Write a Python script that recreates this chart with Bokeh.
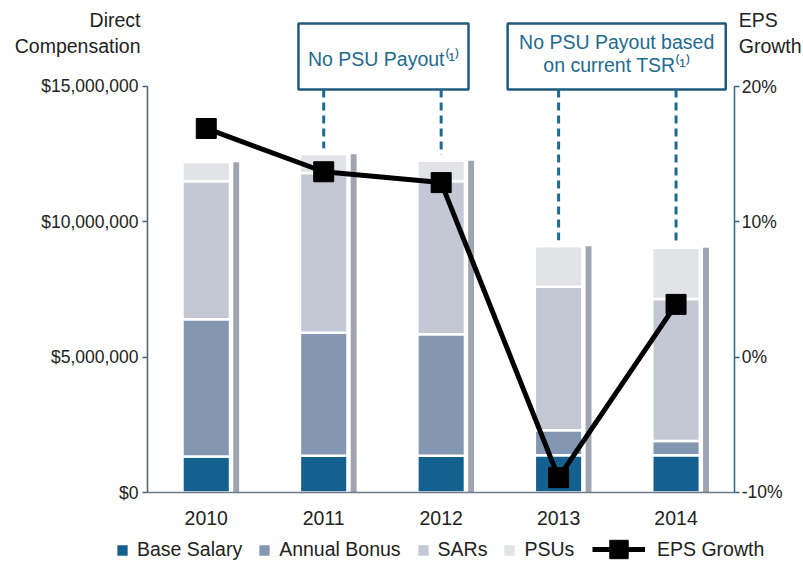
from bokeh.plotting import figure
from bokeh.models import (Range1d, LinearAxis, FixedTicker, NumeralTickFormatter,
                          PrintfTickFormatter, CustomJSTickFormatter, Legend, LegendItem,
                          Label, ColumnDataSource)
from bokeh.embed import file_html
from bokeh.resources import INLINE

# ---------------- data ----------------
years = ["2010", "2011", "2012", "2013", "2014"]
base_salary = [1.33e6, 1.36e6, 1.36e6, 1.38e6, 1.38e6]
annual_bonus = [5.07e6, 4.54e6, 4.49e6, 0.92e6, 0.52e6]
sars = [5.10e6, 5.90e6, 5.65e6, 5.30e6, 5.25e6]
psus = [0.70e6, 0.70e6, 0.76e6, 1.50e6, 1.89e6]
eps_growth = [16.9, 13.7, 12.9, -8.9, 3.9]
left_ticks = [0, 5_000_000, 10_000_000, 15_000_000]
right_ticks = [-10, 0, 10, 20]
segment_names = ["Base Salary", "Annual Bonus", "SARs", "PSUs"]
note_years = ["2011", "2012", "2013", "2014"]
box1_text = "No PSU Payout⁽¹⁾"
box2_lines = ["No PSU Payout based", "on current TSR⁽¹⁾"]

# ---------------- styling ----------------
FONT = "Liberation Sans"
colors = ["#14618f", "#8396b2", "#c3c8d4", "#e2e3e7"]
shadow_color = "#9ea4b0"
teal = "#1f6a8f"
box_line = "#1f5c7c"
axis_color = "#4f6272"
text_color = "#222222"

xpos = list(range(len(years)))
totals = [a + b + c + d for a, b, c, d in zip(base_salary, annual_bonus, sars, psus)]
src = ColumnDataSource(dict(x=xpos, base=base_salary, bonus=annual_bonus,
                            sars=sars, psus=psus, total=totals, eps=eps_growth,
                            xs=[v + 0.255 for v in xpos]))

# frame covers the whole canvas; axes are pinned with fixed_location
p = figure(x_range=Range1d(-1.752, 5.0852), y_range=Range1d(-2.586e6, 18.177e6),
           width=803, height=562, output_backend="svg", toolbar_location=None,
           min_border=0)
p.extra_y_ranges = {"eps": Range1d(-15.173, 26.356)}
p.outline_line_color = None
p.xgrid.visible = False
p.ygrid.visible = False

# shadow strip to the right of each bar
p.vbar(x="xs", top="total", width=0.05, source=src, fill_color=shadow_color, line_color=None)

bars = p.vbar_stack(["base", "bonus", "sars", "psus"], x="x", width=0.405, source=src,
                    fill_color=colors, line_color="white", line_width=2.5)

# annotation boxes and dashed connectors
box_bottom = 14.889e6
box_top = 17.327e6
ix = {y: i for i, y in enumerate(years)}
b1 = (ix["2011"] - 0.215, ix["2012"] + 0.233)
b2 = (ix["2013"] - 0.434, ix["2014"] + 0.423)
p.quad(left=[b1[0], b2[0]], right=[b1[1], b2[1]],
       bottom=[box_bottom, box_bottom], top=[box_top, box_top],
       fill_color="white", line_color=box_line, line_width=2.5)

dash_src = ColumnDataSource(dict(
    x=[ix[y] for y in note_years],
    y0=[box_bottom] * len(note_years),
    y1=[totals[ix[y]] + 0.22e6 for y in note_years]))
p.segment(x0="x", y0="y0", x1="x", y1="y1", source=dash_src,
          line_color=teal, line_width=3, line_dash="8 5")

# EPS line
eps_line = p.line(x="x", y="eps", source=src, y_range_name="eps",
                  line_color="black", line_width=5)
eps_pts = p.scatter(x="x", y="eps", source=src, y_range_name="eps",
                    marker="square", size=20, fill_color="black", line_color="black")

# axes
ya = p.yaxis[0]
ya.fixed_location = -0.5
ya.ticker = FixedTicker(ticks=left_ticks)
ya.formatter = NumeralTickFormatter(format="$0,0")
ya.bounds = (0, 15_000_000)
ya.axis_line_color = axis_color
ya.axis_line_width = 1.5
ya.major_tick_line_color = axis_color
ya.major_tick_line_width = 1.5
ya.major_tick_out = 5
ya.major_tick_in = 0
ya.minor_tick_line_color = None
ya.major_label_standoff = 4
ya.major_label_text_font = FONT
ya.major_label_text_font_size = "17.5px"
ya.major_label_text_color = text_color

ra = LinearAxis(y_range_name="eps", ticker=FixedTicker(ticks=right_ticks),
                formatter=PrintfTickFormatter(format="%d%%"), bounds=(-10, 20),
                fixed_location=4.5)
ra.axis_line_color = "#2f6683"
ra.axis_line_width = 1.5
ra.major_tick_line_color = "#2f6683"
ra.major_tick_line_width = 1.5
ra.major_tick_out = 5
ra.major_tick_in = 0
ra.minor_tick_line_color = None
ra.major_label_standoff = 2
ra.major_label_text_font = FONT
ra.major_label_text_font_size = "17.5px"
ra.major_label_text_color = text_color
p.add_layout(ra, "right")

xa = p.xaxis[0]
xa.fixed_location = 0
xa.bounds = (-0.5, 4.5)
xa.ticker = FixedTicker(ticks=xpos)
xa.formatter = CustomJSTickFormatter(args=dict(labels=years),
                                     code="const i = Math.round(tick); return (i >= 0 && i < labels.length) ? labels[i] : '';")
xa.axis_line_color = "#6f7c88"
xa.axis_line_width = 1.5
xa.major_tick_line_color = None
xa.major_tick_out = 0
xa.major_tick_in = 0
xa.minor_tick_line_color = None
xa.major_label_standoff = 18
xa.major_label_text_font = FONT
xa.major_label_text_font_size = "19.5px"
xa.major_label_text_color = text_color


def lbl(x, y, text, align, color=text_color, size="19.5px"):
    p.add_layout(Label(x=x, y=y, text=text, text_align=align, text_baseline="middle",
                       text_font=FONT, text_font_size=size, text_color=color))


# axis titles
lbl(-0.560, 17.44e6, "Direct", "right")
lbl(-0.560, 16.51e6, "Compensation", "right")
lbl(4.534, 17.44e6, "EPS", "left")
lbl(4.534, 16.51e6, "Growth", "left")

# box texts
lbl(sum(b1) / 2, 16.03e6, box1_text, "center", color=teal)
lbl(sum(b2) / 2, 16.66e6, box2_lines[0], "center", color=teal)
lbl(sum(b2) / 2, 15.81e6, box2_lines[1], "center", color=teal)

# legends
common = dict(orientation="horizontal", padding=0, margin=0, border_line_color=None,
              background_fill_alpha=0, label_text_font=FONT,
              label_text_font_size="19.5px", label_text_color=text_color)
leg1 = Legend(items=[LegendItem(label=n, renderers=[r]) for n, r in zip(segment_names, bars)],
              location=(114, 1), glyph_width=16, glyph_height=16, label_standoff=7,
              spacing=14, **common)
leg2 = Legend(items=[LegendItem(label="EPS Growth", renderers=[eps_line, eps_pts])],
              location=(592, -10), glyph_width=53, glyph_height=46, label_standoff=12,
              **common)
p.add_layout(leg1, "center")
p.add_layout(leg2, "center")

open("out.html", "w").write(file_html(p, INLINE))
